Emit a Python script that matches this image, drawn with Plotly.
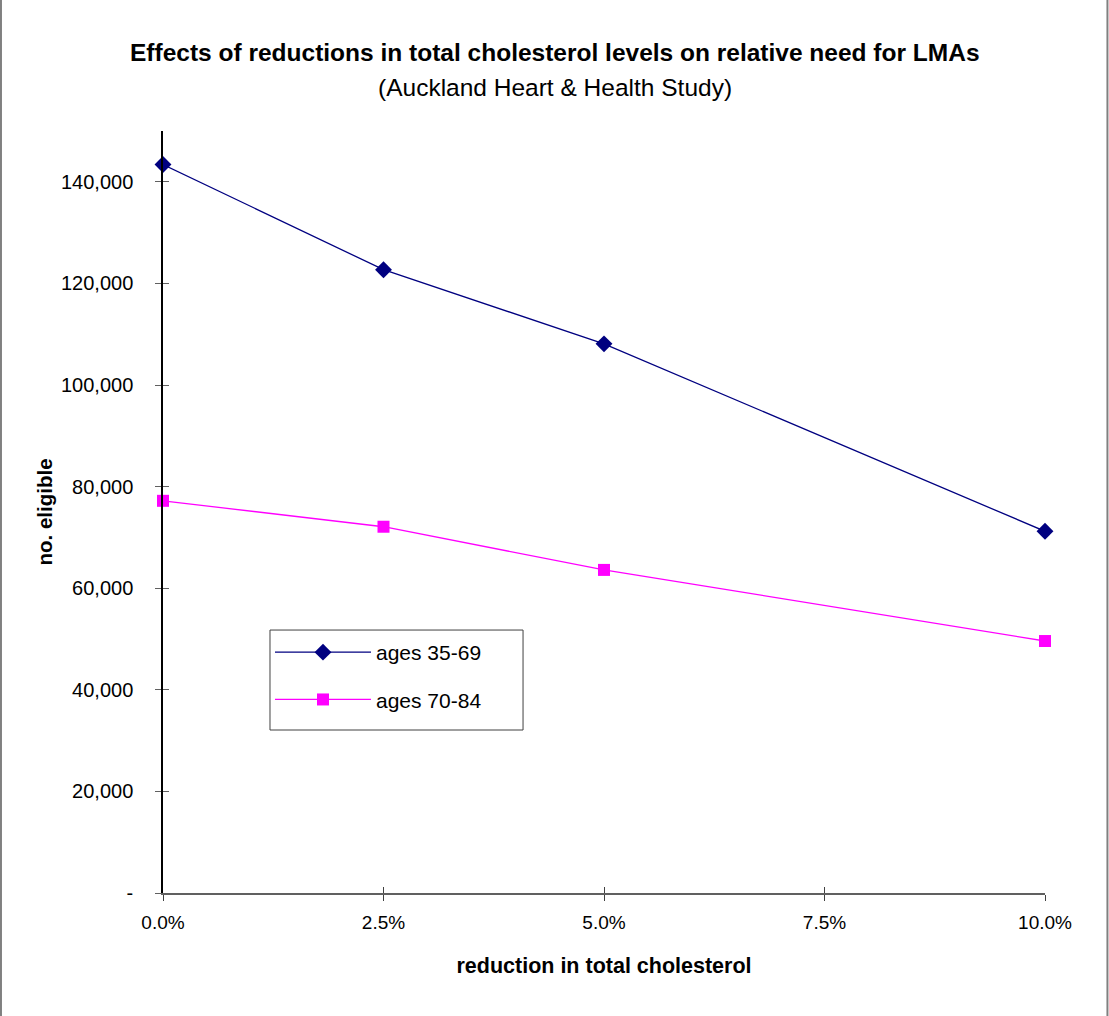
import plotly.graph_objects as go

# Reduction in total cholesterol (%), and number eligible for LMAs
reduction = [0.0, 2.5, 5.0, 10.0]
ages_35_69 = [143400, 122700, 108100, 71200]
ages_70_84 = [77200, 72100, 63600, 49600]

x_ticks = [0.0, 2.5, 5.0, 7.5, 10.0]
x_tick_labels = ["0.0%", "2.5%", "5.0%", "7.5%", "10.0%"]
y_ticks = [0, 20000, 40000, 60000, 80000, 100000, 120000, 140000]
y_tick_labels = ["-", "20,000", "40,000", "60,000", "80,000", "100,000", "120,000", "140,000"]

FONT = "Liberation Sans, Arial, sans-serif"
NAVY = "#000080"
MAGENTA = "#FF00FF"

fig = go.Figure()
fig.add_trace(go.Scatter(
    x=reduction, y=ages_35_69, name="ages 35-69", mode="lines+markers",
    legendgroup="a", cliponaxis=False,
    line=dict(color=NAVY, width=1.3),
    marker=dict(symbol="diamond", size=13, color=NAVY),
))
fig.add_trace(go.Scatter(
    x=reduction, y=ages_70_84, name="ages 70-84", mode="lines+markers",
    legendgroup="b", cliponaxis=False,
    line=dict(color=MAGENTA, width=1.3),
    marker=dict(symbol="square", size=12, color=MAGENTA),
))

axis_common = dict(showgrid=False, zeroline=False, ticklen=6, tickwidth=1)

fig.update_layout(
    width=1109, height=1016,
    margin=dict(l=163, r=64, t=131, b=123),
    paper_bgcolor="white", plot_bgcolor="white",
    font=dict(family=FONT, size=20, color="black"),
    showlegend=True,
    legend=dict(
        x=0.1213, y=0.3425, xanchor="left", yanchor="top",
        borderwidth=0, bgcolor="rgba(0,0,0,0)",
        font=dict(size=21), tracegroupgap=17,
        itemwidth=96,
    ),
    xaxis=dict(
        range=[0, 10], tickvals=x_ticks, ticktext=x_tick_labels,
        ticks="outside", tickcolor="#404040",
        showline=True, linecolor="#606060", linewidth=1.5,
        ticklabelstandoff=5, tickfont=dict(size=19),
        title=dict(text="<b>reduction in total cholesterol</b>",
                   font=dict(size=21.5), standoff=26),
        **axis_common,
    ),
    yaxis=dict(
        range=[0, 150000], tickvals=y_ticks, ticktext=y_tick_labels,
        ticks="outside", tickcolor="#606060",
        showline=True, linecolor="black", linewidth=1.5,
        ticklabelstandoff=18,
        title=dict(text="<b>no. eligible</b>", font=dict(size=20.5), standoff=3),
        **axis_common,
    ),
    # overlay axes supply the inner half of the crossing tick marks
    xaxis2=dict(
        overlaying="x", range=[0, 10], tickvals=x_ticks, showticklabels=False,
        ticks="inside", tickcolor="#404040", side="bottom", anchor="y",
        **axis_common,
    ),
    yaxis2=dict(
        overlaying="y", range=[0, 150000], tickvals=y_ticks, showticklabels=False,
        ticks="inside", tickcolor="#606060", side="left", anchor="x",
        **axis_common,
    ),
    annotations=[
        dict(text="<b>Effects of reductions in total cholesterol levels on relative need for LMAs</b>",
             xref="paper", yref="paper", x=0.4439, y=1.1024,
             xanchor="center", yanchor="middle", showarrow=False,
             font=dict(size=24.5)),
        dict(text="(Auckland Heart & Health Study)",
             xref="paper", yref="paper", x=0.4439, y=1.0577,
             xanchor="center", yanchor="middle", showarrow=False,
             font=dict(size=24.5)),
    ],
    shapes=[
        # legend frame
        dict(type="rect", xref="paper", yref="paper", x0=0.1213, x1=0.4082,
             y0=0.2139, y1=0.3451, layer="above", fillcolor="white",
             line=dict(color="#404040", width=1)),
        # page edges
        dict(type="line", xref="paper", yref="paper", x0=-0.1837, x1=-0.1837,
             y0=-0.1614, y1=1.1719, line=dict(color="#808080", width=2)),
        dict(type="line", xref="paper", yref="paper", x0=1.0708, x1=1.0708,
             y0=-0.1614, y1=1.1719, line=dict(color="#808080", width=2)),
    ],
)

# invisible trace to activate the overlay axes
fig.add_trace(go.Scatter(x=[None], y=[None], xaxis="x2", yaxis="y2",
                         showlegend=False, hoverinfo="skip"))

fig.write_html("out.html")
